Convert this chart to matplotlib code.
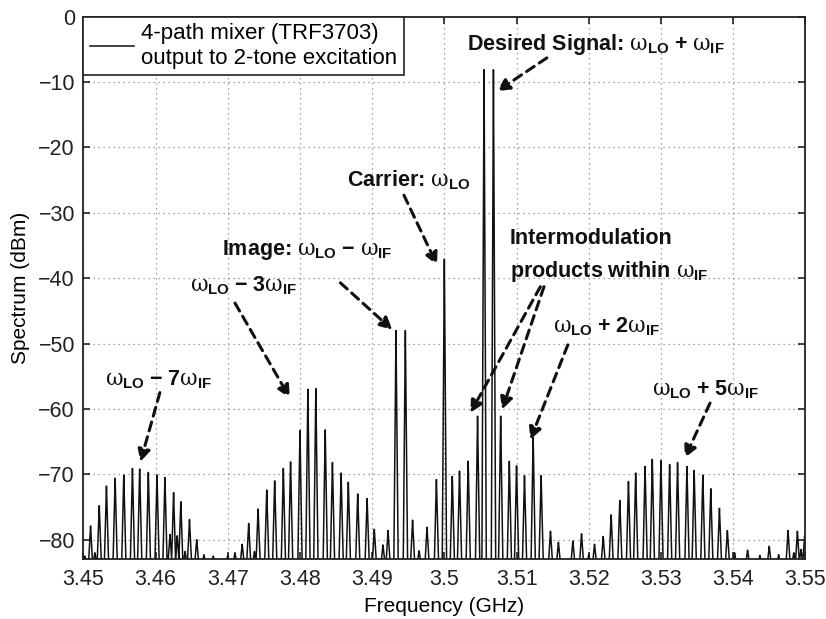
import numpy as np
import matplotlib.pyplot as plt

plt.rcParams['font.family'] = ['Liberation Sans', 'DejaVu Sans']
plt.rcParams['mathtext.fontset'] = 'custom'
plt.rcParams['mathtext.rm'] = 'Liberation Sans'
plt.rcParams['mathtext.bf'] = 'Liberation Sans:bold'
plt.rcParams['mathtext.it'] = 'DejaVu Serif'

# spectral peaks (GHz, dBm)
lo_m7_freq = [3.4502, 3.4510, 3.4516, 3.4522, 3.4532, 3.4544, 3.4556, 3.4568, 3.4578,
              3.4590, 3.4602, 3.4613, 3.4620, 3.4625, 3.4630, 3.4635, 3.4641, 3.4647,
              3.4657, 3.4667, 3.4680, 3.4700]
lo_m7_level = [-82.5, -77.9, -82.0, -74.8, -71.8, -70.6, -70.1, -69.1, -69.2,
               -69.7, -70.1, -70.5, -79.2, -72.8, -79.4, -74.2, -81.8, -76.9,
               -80.0, -82.3, -82.5, -82.4]

lo_m3_freq = [3.4710, 3.4720, 3.4729, 3.4737, 3.4742, 3.4754, 3.4765, 3.4777, 3.4787,
              3.4800, 3.4811, 3.4822, 3.4835, 3.4845, 3.4857, 3.4867, 3.4880, 3.4893,
              3.4903, 3.4915, 3.4922]
lo_m3_level = [-82.0, -80.7, -77.5, -81.8, -75.3, -72.4, -71.0, -69.1, -68.1,
               -63.3, -57.0, -56.9, -63.2, -68.2, -69.8, -71.2, -73.0, -73.7,
               -78.4, -80.8, -78.6]

center_freq = [3.4933, 3.4946, 3.4956, 3.4965, 3.4976, 3.4989, 3.5000, 3.5011, 3.5021,
               3.5033, 3.5046, 3.5055, 3.5068, 3.5078, 3.5090, 3.5100, 3.5111, 3.5123,
               3.5134, 3.5147, 3.5158, 3.5178, 3.5190, 3.5200, 3.5208]
center_level = [-48.0, -48.0, -77.0, -81.7, -78.1, -70.8, -37.1, -70.3, -69.5,
                -68.0, -61.1, -8.1, -8.1, -61.1, -68.0, -68.7, -70.2, -64.3,
                -70.2, -78.7, -80.4, -80.2, -79.1, -82.3, -80.7]

lo_p5_freq = [3.5220, 3.5231, 3.5243, 3.5255, 3.5265, 3.5278, 3.5288, 3.5300, 3.5312,
              3.5323, 3.5336, 3.5346, 3.5358, 3.5369, 3.5381, 3.5392, 3.5402, 3.5420,
              3.5437, 3.5450, 3.5463, 3.5476, 3.5484, 3.5489, 3.5494, 3.5499]
lo_p5_level = [-79.5, -76.2, -74.0, -71.1, -69.8, -68.8, -67.7, -67.9, -68.5,
               -68.2, -68.8, -69.4, -70.1, -72.2, -75.2, -78.6, -82.0, -81.6,
               -82.4, -81.0, -82.3, -78.6, -82.0, -78.7, -81.5, -79.4]

floor_level = -84.0
half_width = 0.0003

peak_f = np.array(lo_m7_freq + lo_m3_freq + center_freq + lo_p5_freq)
peak_h = np.array(lo_m7_level + lo_m3_level + center_level + lo_p5_level)

# draw each peak as a narrow spike on the noise floor
f = np.linspace(3.45, 3.55, 20001)
spec = np.full_like(f, floor_level)
for pf, ph in zip(peak_f, peak_h):
    tri = ph - (ph - floor_level) * np.abs(f - pf) / half_width
    spec = np.maximum(spec, tri)

fig = plt.figure(figsize=(8.26, 6.19), dpi=100)
ax = fig.add_axes([0.1009, 0.0964, 0.8741, 0.8766])

ax.plot(f, spec, color='#111111', lw=1.1,
        label='4-path mixer (TRF3703)\noutput to 2-tone excitation')

ax.set_xlim(3.45, 3.55)
ax.set_ylim(-83, 0)
ax.set_xticks(np.arange(3.45, 3.5501, 0.01))
ax.set_xticklabels(['3.45', '3.46', '3.47', '3.48', '3.49', '3.5',
                    '3.51', '3.52', '3.53', '3.54', '3.55'])
ax.set_yticks(np.arange(-80, 1, 10))
ax.set_yticklabels(['\u221280', '\u221270', '\u221260', '\u221250', '\u221240',
                    '\u221230', '\u221220', '\u221210', '0'])
ax.tick_params(direction='in', top=True, right=True, labelsize=15.5, length=5, width=1.2,
               colors='#222222')
ax.tick_params(axis='x', pad=7)
ax.tick_params(axis='y', pad=6)
ax.grid(True, linestyle=(0, (1, 3)), color='#888888', lw=0.9)
for s in ax.spines.values():
    s.set_linewidth(1.3)
    s.set_color('#222222')

ax.set_xlabel('Frequency (GHz)', fontsize=15, labelpad=5)
ax.set_ylabel('Spectrum (dBm)', fontsize=15, labelpad=6)

leg = ax.legend(loc='upper left', borderaxespad=0, fancybox=False, edgecolor='#222222',
                fontsize=16, handlelength=2.0, framealpha=1, borderpad=0.3,
                handletextpad=0.3, labelspacing=0.1)
leg.get_frame().set_linewidth(1.2)

arrow = dict(arrowstyle='-|>', linestyle=(0, (3, 2)), lw=2.2, color='#111111',
             mutation_scale=18, shrinkA=0, shrinkB=0)
fs = 15.5

annotations = [
    (r'Desired Signal: $\omega_{\mathbf{LO}}\;\mathbf{+}\;\omega_{\mathbf{IF}}$', (3.5031, -4.3), (3.5142, -6.3), (3.5073, -11.4)),
    (r'Carrier: $\omega_{\mathbf{LO}}$', (3.4865, -25.0), (3.4944, -27.3), (3.4990, -38.0)),
    (r'Image: $\omega_{\mathbf{LO}}\;\mathbf{-}\;\omega_{\mathbf{IF}}$', (3.4692, -35.7), (3.4856, -40.7), (3.4928, -47.9)),
    (r'$\omega_{\mathbf{LO}}\;\mathbf{-}\;\mathbf{3}\omega_{\mathbf{IF}}$', (3.4648, -41.1), (3.4710, -43.8), (3.4786, -58.3)),
    (r'$\omega_{\mathbf{LO}}\;\mathbf{-}\;\mathbf{7}\omega_{\mathbf{IF}}$', (3.4530, -55.6), (3.4606, -57.5), (3.4579, -68.1)),
    (r'$\omega_{\mathbf{LO}}\;\mathbf{+}\;\mathbf{2}\omega_{\mathbf{IF}}$', (3.5150, -47.4), (3.5171, -50.2), (3.5119, -64.7)),
    (r'$\omega_{\mathbf{LO}}\;\mathbf{+}\;\mathbf{5}\omega_{\mathbf{IF}}$', (3.5288, -57.1), (3.5368, -59.1), (3.5333, -67.5)),
]
for txt, tpos, tail, head in annotations:
    ax.text(tpos[0], tpos[1], txt, fontsize=fs, fontweight='bold', va='center', ha='left', color='#111111')
    ax.annotate('', xy=head, xytext=tail, arrowprops=arrow)

ax.text(3.5091, -34.0, 'Intermodulation', fontsize=fs, fontweight='bold', va='center', ha='left', color='#111111')
ax.text(3.5091, -38.9, r'products within $\omega_{\mathbf{IF}}$', fontsize=fs, fontweight='bold',
        va='center', ha='left', color='#111111')
ax.annotate('', xy=(3.5036, -60.6), xytext=(3.5133, -41.3), arrowprops=arrow)
ax.annotate('', xy=(3.5080, -60.1), xytext=(3.5138, -41.3), arrowprops=arrow)

fig.savefig('out.png', dpi=100)
